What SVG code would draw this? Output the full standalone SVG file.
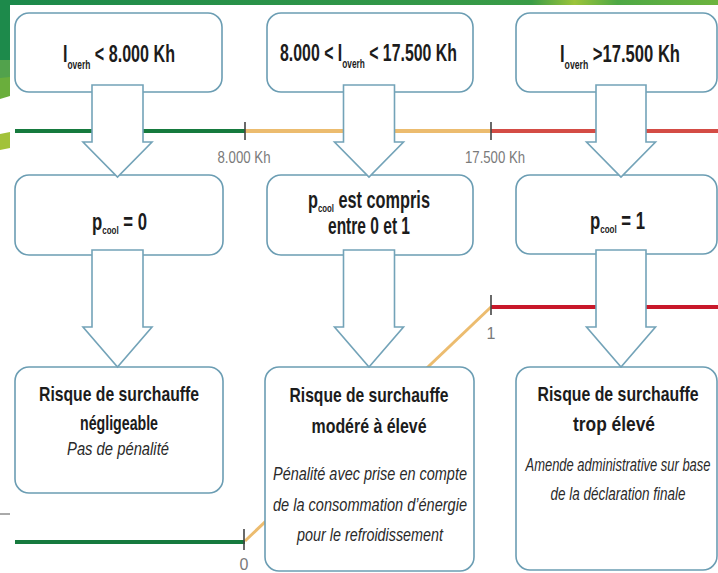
<svg xmlns="http://www.w3.org/2000/svg" width="718" height="573" viewBox="0 0 718 573">
<defs>
<linearGradient id="topbar" x1="0" y1="0" x2="1" y2="0">
<stop offset="0" stop-color="#1b894b"/>
<stop offset="0.74" stop-color="#3a9c47"/>
<stop offset="0.8" stop-color="#9cc43a"/>
<stop offset="0.86" stop-color="#4ea845"/>
<stop offset="1" stop-color="#6cb43e"/>
</linearGradient>
<style>
.box{fill:#ffffff;stroke:#6b9db3;stroke-width:1.6}
.arrow{fill:#ffffff;stroke:#73a3b8;stroke-width:1.6;stroke-linejoin:miter}
text{font-family:"Liberation Sans Narrow","Liberation Sans",Arial,sans-serif;fill:#1c1c1c}
.h{font-size:23px;font-weight:bold}
.s1{font-size:12px}
.s2{font-size:11px}
.b{font-size:20px;font-weight:bold;text-anchor:middle}
.i{font-size:17.5px;font-style:italic;text-anchor:middle;fill:#2a2a2a}
.lbl{font-size:16px;fill:#7a7a7a;text-anchor:middle}
.tick{stroke:#444;stroke-width:1.6}
</style>
</defs>
<rect x="0" y="0" width="718" height="573" fill="#ffffff"/>
<g id="background">
<rect x="0" y="0" width="718" height="5" fill="url(#topbar)"/>
<rect x="0" y="0" width="10" height="62" fill="#1d8a4b"/>
<path d="M0 60 L10 60 L10 78 L0 80 Z" fill="#52a24c"/>
<path d="M0 78 L10 77 L10 96 L0 99 Z" fill="#6aae3c"/>
<path d="M0 134 L10 132 L10 148 L0 150 Z" fill="#a2c23a"/>
<line x1="0" y1="514" x2="10" y2="514" stroke="#555" stroke-width="1"/>
</g>
<g id="scales">
<line x1="15" y1="131" x2="245" y2="131" stroke="#167a3e" stroke-width="4"/>
<line x1="245" y1="131" x2="491" y2="131" stroke="#ecbc6f" stroke-width="4"/>
<line x1="491" y1="131" x2="718" y2="131" stroke="#d44c45" stroke-width="4"/>
<line class="tick" x1="245" y1="122" x2="245" y2="140"/>
<line class="tick" x1="491" y1="122" x2="491" y2="140"/>
<text class="lbl" x="244" y="163" textLength="53" lengthAdjust="spacingAndGlyphs">8.000 Kh</text>
<text class="lbl" x="495" y="163" textLength="60" lengthAdjust="spacingAndGlyphs">17.500 Kh</text>
<line x1="15" y1="542" x2="245" y2="542" stroke="#167a3e" stroke-width="4"/>
<line x1="245" y1="541" x2="491" y2="307" stroke="#ecbc6f" stroke-width="3"/>
<line x1="491" y1="307" x2="718" y2="307" stroke="#c8182a" stroke-width="4"/>
<line class="tick" x1="244" y1="529" x2="244" y2="550"/>
<line class="tick" x1="491" y1="295" x2="491" y2="315"/>
<text class="lbl" x="491" y="339">1</text>
<text class="lbl" x="244" y="570">0</text>
</g>
<g id="n1">
<rect class="box" x="15" y="13" width="207" height="79" rx="14"/>
<text class="h" transform="translate(63 62) scale(0.7 1)" textLength="160" lengthAdjust="spacingAndGlyphs">I<tspan class="s1" dy="7">overh</tspan><tspan dy="-7"> &lt; 8.000 Kh</tspan></text>
</g>
<g id="n2">
<rect class="box" x="267" y="13" width="206" height="79" rx="14"/>
<text class="h" transform="translate(280 61) scale(0.69 1)" textLength="256.5" lengthAdjust="spacingAndGlyphs">8.000 &lt; I<tspan class="s1" dy="7">overh</tspan><tspan dy="-7"> &lt; 17.500 Kh</tspan></text>
</g>
<g id="n3">
<rect class="box" x="516" y="13" width="201" height="79" rx="14"/>
<text class="h" transform="translate(560 62) scale(0.72 1)" textLength="166.7" lengthAdjust="spacingAndGlyphs">I<tspan class="s1" dy="7">overh</tspan><tspan dy="-7"> &gt;17.500 Kh</tspan></text>
</g>
<g id="n4">
<rect class="box" x="15" y="175" width="208" height="80" rx="14"/>
<text class="h" transform="translate(92 230) scale(0.73 1)" textLength="75.3" lengthAdjust="spacingAndGlyphs">p<tspan class="s2" dy="4">cool</tspan><tspan dy="-4"> = 0</tspan></text>
</g>
<g id="n5">
<rect class="box" x="267" y="175" width="206" height="80" rx="14"/>
<text class="h" transform="translate(308 208) scale(0.71 1)" textLength="171.8" lengthAdjust="spacingAndGlyphs">p<tspan class="s2" dy="4">cool</tspan><tspan dy="-4"> est compris</tspan></text>
<text class="h" transform="translate(328 234) scale(0.675 1)" textLength="121.5" lengthAdjust="spacingAndGlyphs">entre 0 et 1</text>
</g>
<g id="n6">
<rect class="box" x="516" y="175" width="201" height="79" rx="14"/>
<text class="h" transform="translate(590 229) scale(0.73 1)" textLength="75.3" lengthAdjust="spacingAndGlyphs">p<tspan class="s2" dy="4">cool</tspan><tspan dy="-4"> = 1</tspan></text>
</g>
<g id="n7">
<rect class="box" x="15" y="367" width="208" height="126" rx="14"/>
<text class="b" transform="translate(119 401) scale(0.79 1)" textLength="202.5" lengthAdjust="spacingAndGlyphs">Risque de surchauffe</text>
<text class="b" transform="translate(119 430) scale(0.72 1)" textLength="108.3" lengthAdjust="spacingAndGlyphs">négligeable</text>
<text class="i" transform="translate(118 455) scale(0.84 1)" textLength="121.4" lengthAdjust="spacingAndGlyphs">Pas de pénalité</text>
</g>
<g id="n8">
<rect class="box" x="265" y="367" width="209" height="204" rx="14"/>
<text class="b" transform="translate(369 402) scale(0.79 1)" textLength="201.3" lengthAdjust="spacingAndGlyphs">Risque de surchauffe</text>
<text class="b" transform="translate(369 433) scale(0.8 1)" textLength="143.75" lengthAdjust="spacingAndGlyphs">modéré à élevé</text>
<text class="i" transform="translate(370 480) scale(0.83 1)" textLength="233.7" lengthAdjust="spacingAndGlyphs">Pénalité avec prise en compte</text>
<text class="i" transform="translate(370 511) scale(0.83 1)" textLength="233.7" lengthAdjust="spacingAndGlyphs">de la consommation d’énergie</text>
<text class="i" transform="translate(370 541) scale(0.82 1)" textLength="178" lengthAdjust="spacingAndGlyphs">pour le refroidissement</text>
</g>
<g id="n9">
<rect class="box" x="516" y="367" width="201" height="203" rx="14"/>
<text class="b" transform="translate(618 401) scale(0.79 1)" textLength="203.8" lengthAdjust="spacingAndGlyphs">Risque de surchauffe</text>
<text class="b" transform="translate(614 431) scale(0.87 1)" textLength="94.3" lengthAdjust="spacingAndGlyphs">trop élevé</text>
<text class="i" transform="translate(618 471) scale(0.74 1)" textLength="250" lengthAdjust="spacingAndGlyphs">Amende administrative sur base</text>
<text class="i" transform="translate(618 500) scale(0.77 1)" textLength="175.3" lengthAdjust="spacingAndGlyphs">de la déclaration finale</text>
</g>
<g id="connectors">
<path class="arrow" d="M92 85 H143 V142 H152 L117.5 177 L83 142 H92 Z"/>
<path class="arrow" d="M343.5 85 H394.5 V142 H403.5 L369 177 L334.5 142 H343.5 Z"/>
<path class="arrow" d="M596 85 H646 V142 H655.5 L621 177 L586.5 142 H596 Z"/>
<path class="arrow" d="M92 250 H143 V327 H152 L117.5 367 L83 327 H92 Z"/>
<path class="arrow" d="M343.5 250 H394.5 V327 H403.5 L369 367 L334.5 327 H343.5 Z"/>
<path class="arrow" d="M596 250 H646 V327 H655.5 L621 367 L586.5 327 H596 Z"/>
</g>
</svg>
